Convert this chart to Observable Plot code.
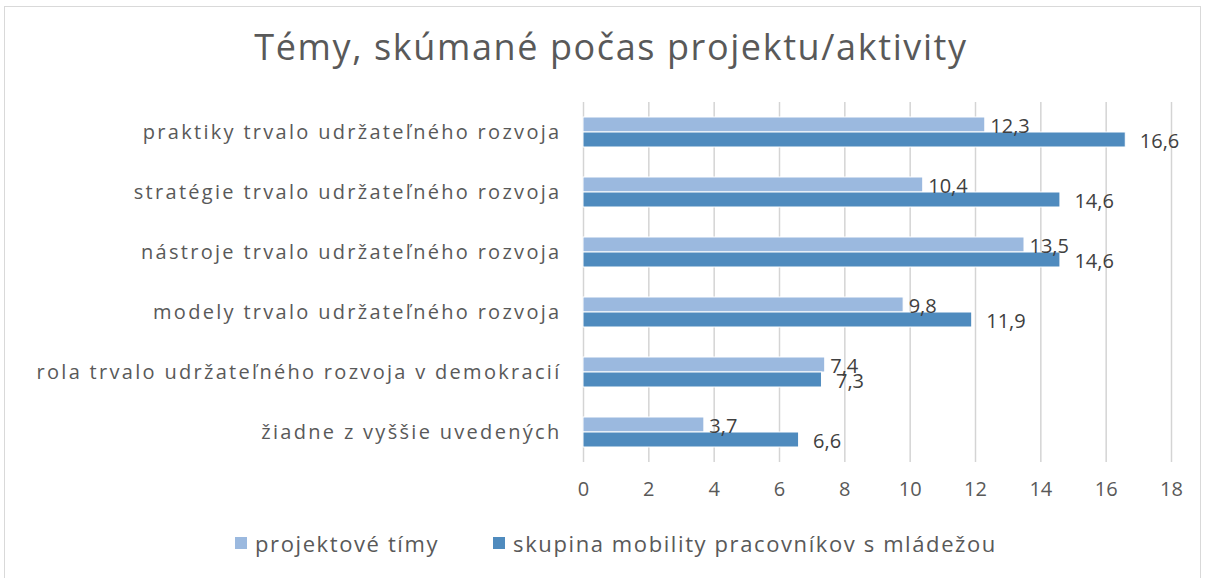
<!DOCTYPE html>
<html>
<head>
<meta charset="utf-8">
<script src="https://cdn.jsdelivr.net/npm/d3@7"></script>
<script src="https://cdn.jsdelivr.net/npm/@observablehq/plot@0.6"></script>
<style>
  body { margin:0; width:1208px; height:578px; overflow:hidden; position:relative; background:#fff; font-family:"Open Sans", sans-serif; color:#595959; }
  #frame { position:absolute; left:4px; top:6px; width:1195px; height:640px; border:1px solid #d9d9d9; }
  #title { position:absolute; left:0; width:1222px; top:22px; text-align:center; font-size:36px; letter-spacing:1.6px; color:#595959; }
  #chart { position:absolute; left:0; top:80px; }
  #legend { position:absolute; top:528px; left:235px; font-size:22px; letter-spacing:1.6px; color:#595959; display:flex; align-items:center; }
  .sw { display:inline-block; width:12px; height:12px; margin-right:8px; }
  .item { display:flex; align-items:center; margin-right:54px; }
  #chart g[aria-label="x-grid"] line { stroke:#d4d4d4 !important; stroke-opacity:1 !important; stroke-width:1.5px; }
  #chart g[aria-label="x-grid"] { stroke-opacity:1 !important; }
</style>
</head>
<body>
<div id="frame"></div>
<div id="title">Témy, skúmané počas projektu/aktivity</div>
<div id="chart"></div>
<div id="legend"></div>
<script>
const categories = [
  "praktiky trvalo udržateľného rozvoja",
  "stratégie trvalo udržateľného rozvoja",
  "nástroje trvalo udržateľného rozvoja",
  "modely trvalo udržateľného rozvoja",
  "rola trvalo udržateľného rozvoja v demokracií",
  "žiadne z vyššie uvedených"
];
const series = ["projektové tímy", "skupina mobility pracovníkov s mládežou"];
const projektoveTimy = [12.3, 10.4, 13.5, 9.8, 7.4, 3.7];
const skupinaMobility = [16.6, 14.6, 14.6, 11.9, 7.3, 6.6];
const colors = ["#9bb9df", "#4f8bbe"];
const xTicks = [0, 2, 4, 6, 8, 10, 12, 14, 16, 18];

const data = [];
categories.forEach((c, i) => {
  data.push({category: c, series: series[0], value: projektoveTimy[i]});
  data.push({category: c, series: series[1], value: skupinaMobility[i]});
});
const fmt = v => v.toFixed(1).replace(".", ",");

const chart = Plot.plot({
  width: 1208,
  height: 428,
  marginLeft: 583,
  marginRight: 37,
  marginTop: 20,
  marginBottom: 45,
  style: {fontFamily: "'Open Sans', sans-serif", fontSize: "20px", color: "#595959", background: "transparent"},
  x: {domain: [0, 18], ticks: xTicks, tickSize: 0, tickPadding: 19, label: null, grid: true, tickFormat: d => String(d)},
  fy: {domain: categories, padding: 0, label: null, axis: "left", tickSize: 0, tickPadding: 22},
  y: {domain: series, paddingInner: 0, paddingOuter: 0.935, axis: null},
  color: {domain: series, range: colors},
  marks: [
    Plot.barX(data, {x: "value", y: "series", fy: "category", fill: "series", stroke: "white", strokeWidth: 1}),
    Plot.text(data.filter(d => d.series === series[0]), {x: "value", y: "series", fy: "category", text: d => fmt(d.value), textAnchor: "start", dx: 5, dy: 2, fill: "#404040", fontSize: 20}),
    Plot.text(data.filter(d => d.series === series[1]), {x: "value", y: "series", fy: "category", text: d => fmt(d.value), textAnchor: "start", dx: 14, dy: 2, fill: "#404040", fontSize: 20})
  ]
});
// style the category (fy) axis labels: wider, spaced text as in the reference
chart.querySelectorAll("g[aria-label^='fy-axis'] text").forEach(t => {
  t.style.fontSize = "20px";
  t.style.letterSpacing = "2.3px";
});
document.getElementById("chart").appendChild(chart);

const legend = document.getElementById("legend");
series.forEach((s, i) => {
  const item = document.createElement("div");
  item.className = "item";
  const sw = document.createElement("span");
  sw.className = "sw";
  sw.style.background = colors[i];
  const t = document.createElement("span");
  t.textContent = s;
  item.appendChild(sw);
  item.appendChild(t);
  legend.appendChild(item);
});
</script>
</body>
</html>
